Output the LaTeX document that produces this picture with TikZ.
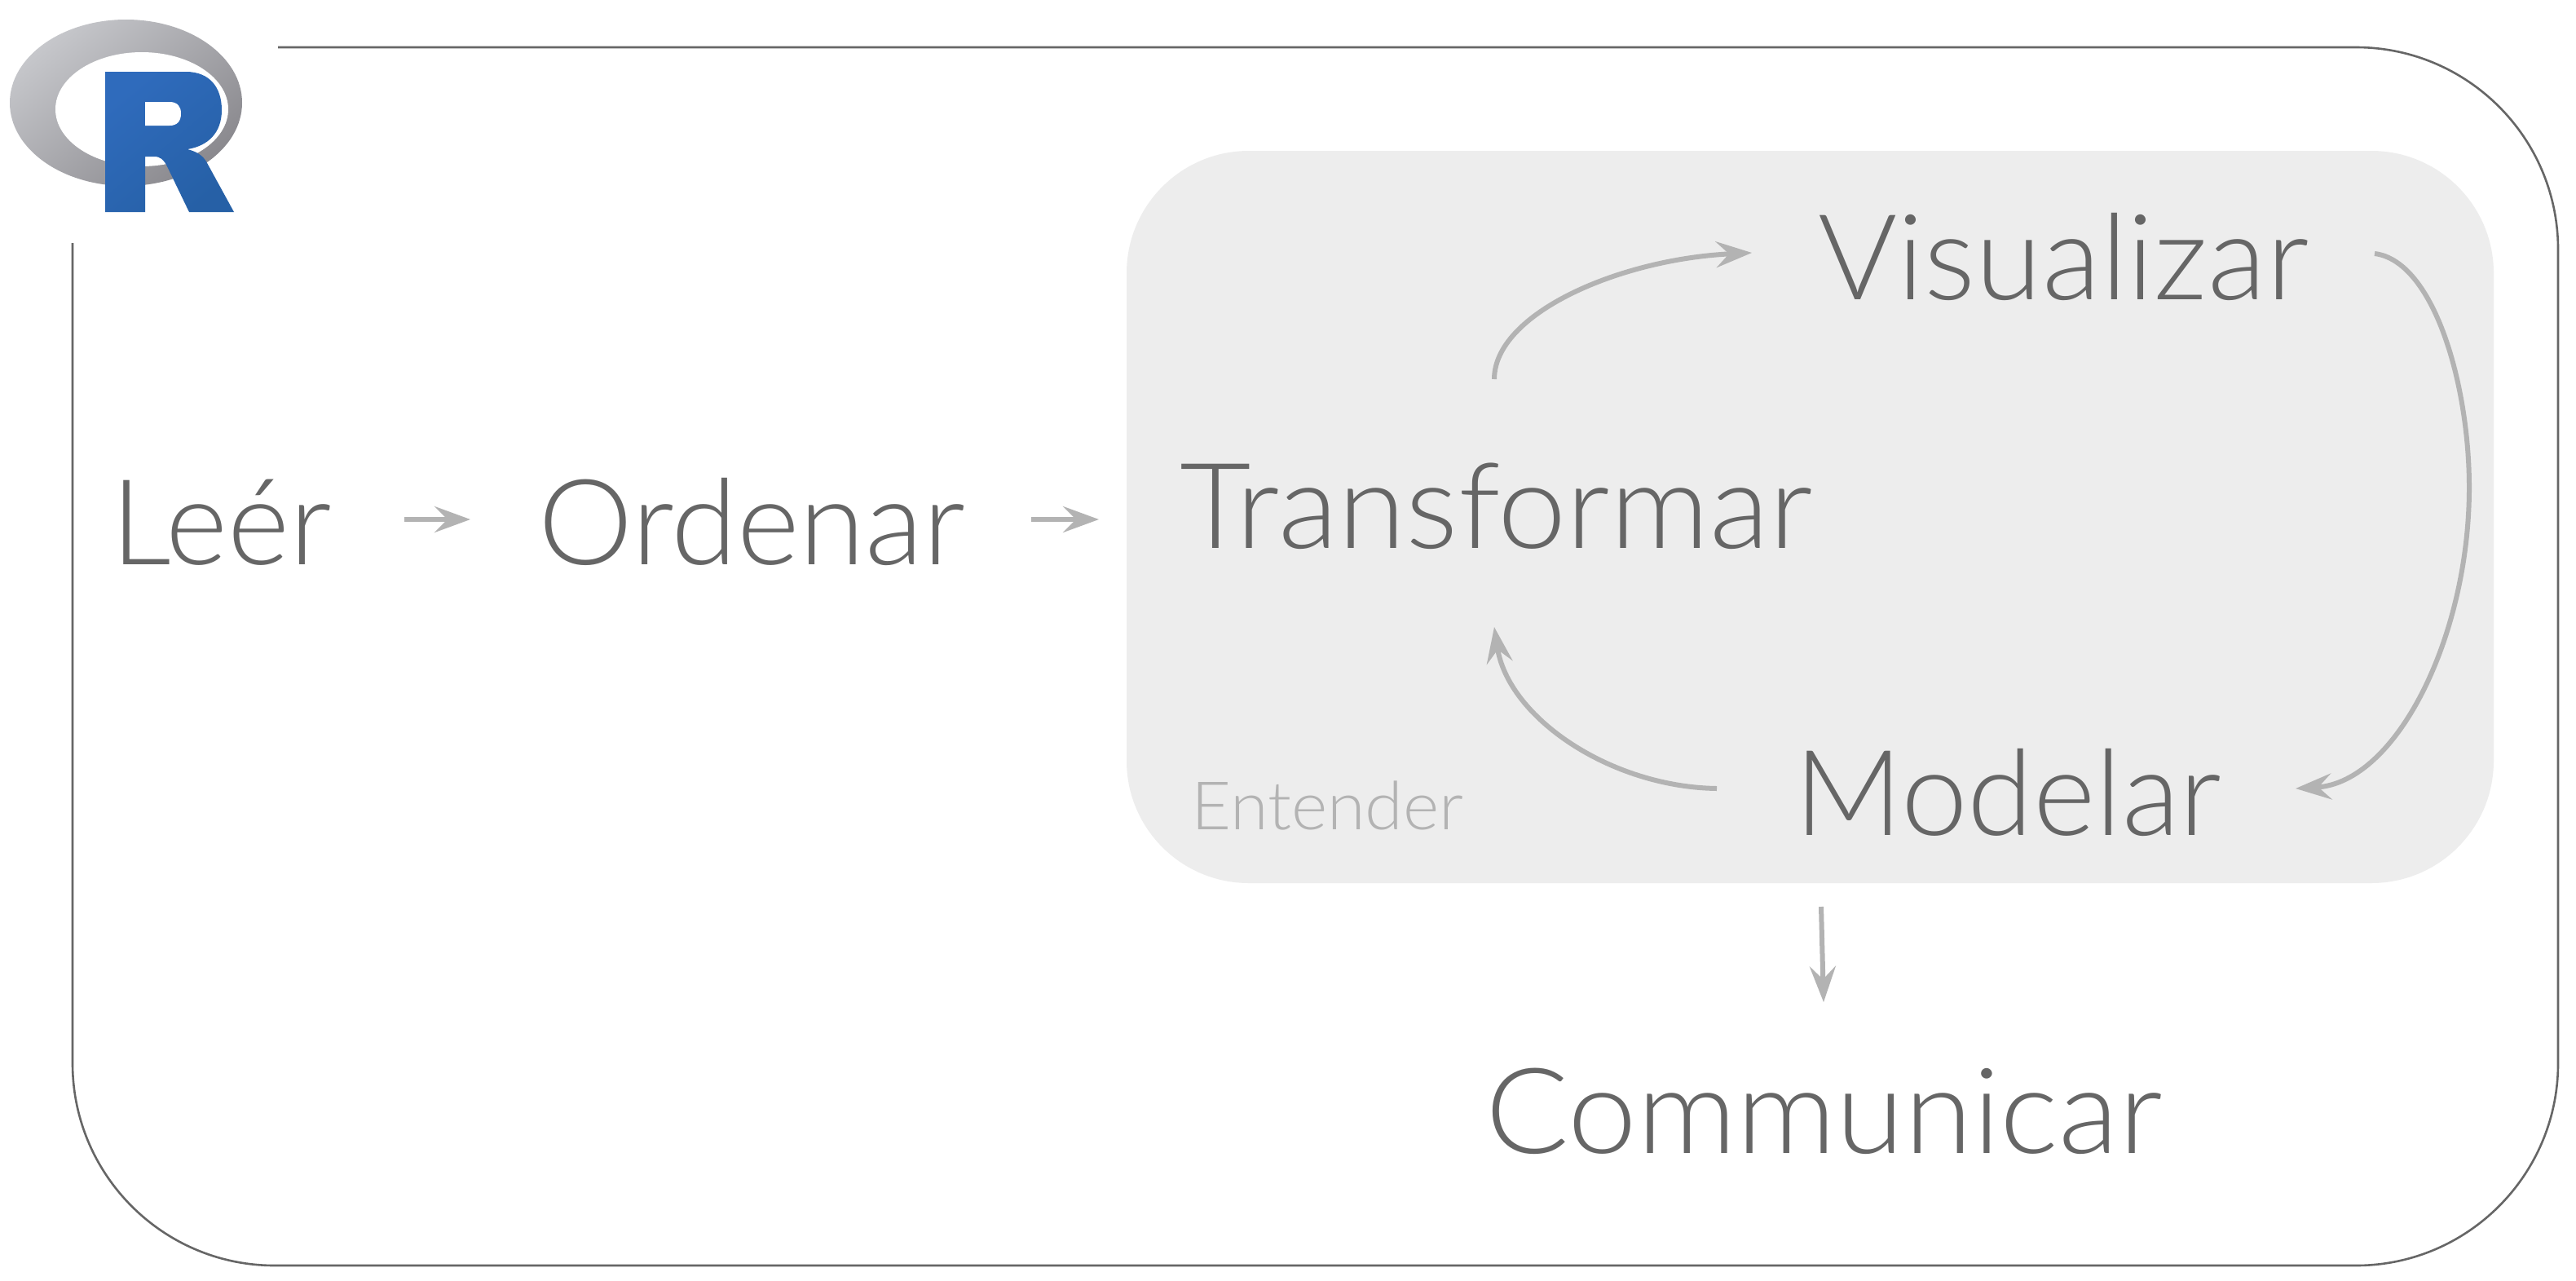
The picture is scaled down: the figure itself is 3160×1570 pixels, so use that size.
\documentclass[tikz,border=0pt]{standalone}
\usepackage{fontspec}
\usepackage{graphicx}
\usetikzlibrary{arrows.meta,shadings}
\newfontfamily\lightfont{Lato Light}
\definecolor{txt}{HTML}{666666}
\definecolor{arr}{HTML}{B3B3B3}
\definecolor{panel}{HTML}{EDEDED}
\definecolor{ringa}{HTML}{C6C7CB}
\definecolor{ringb}{HTML}{8A898E}
\definecolor{rtop}{HTML}{2F6BBC}
\definecolor{rbot}{HTML}{2660A6}
\newcommand{\fitw}[2]{\resizebox{#1}{\height}{#2}}
\tikzset{
  bigword/.style={anchor=base west,inner sep=0pt,text=txt,font=\lightfont\fontsize{73}{73}\selectfont},
  smallword/.style={anchor=base west,inner sep=0pt,text=arr,font=\lightfont\fontsize{41}{41}\selectfont},
  flow/.style={draw=arr,line width=3pt,-{Stealth[length=22pt,width=16pt,inset=8pt,fill=arr]}},
  frame/.style={draw=txt,line width=1.3pt}
}
\begin{document}
\begin{tikzpicture}[x=0.5pt,y=-0.5pt]
\useasboundingbox[fill=white] (0,0) rectangle (3160,1570);
% frame
\draw[frame] (341,58) -- (2890,58) arc[start angle=90,end angle=0,radius=124pt]
  -- (3138,1304) arc[start angle=0,end angle=-90,radius=124pt]
  -- (337,1552) arc[start angle=270,end angle=180,radius=124pt] -- (89,298);
% panel
\fill[panel,rounded corners=75pt] (1382,185) rectangle (3059,1083);
% logo
\shade[top color=ringa,bottom color=ringb,shading angle=40]
  (154.5,126) ellipse[x radius=142.5,y radius=102];
\fill[white] (174,134) ellipse[x radius=106,y radius=70];
\shade[top color=rtop,bottom color=rbot,shading angle=40]
  (129,88) -- (228,88) .. controls (258,88) and (272,108) .. (272,135)
  .. controls (272,163) and (255,179) .. (230,183)
  .. controls (241,186) and (248,190) .. (253,198) -- (287,260) -- (232,260) -- (205,204)
  .. controls (201,196) and (197,192) .. (189,192) -- (178,192) -- (178,260) -- (129,260) -- cycle;
\fill[white] (178,125) -- (208,125) .. controls (218,125) and (222,131) .. (222,139)
  .. controls (222,148) and (218,154) .. (208,154) -- (178,154) -- cycle;
% words
\node[bigword] (leer) at (136,692) {\fitw{135pt}{Leér}};
\node[bigword] (ordenar) at (660,692) {\fitw{262pt}{Ordenar}};
\node[bigword] (transformar) at (1447,672) {\fitw{388pt}{Transformar}};
\node[bigword] (visualizar) at (2230,367) {\fitw{301pt}{Visualizar}};
\node[bigword] (modelar) at (2201,1024) {\fitw{262pt}{Modelar}};
\node[bigword] (communicar) at (1822,1414) {\fitw{415pt}{Communicar}};
\node[smallword] (entender) at (1461,1017) {\fitw{167pt}{Entender}};
% connector ends
\coordinate (a1) at (496,637);
\coordinate (a2) at (577,637);
\coordinate (b1) at (1265,637);
\coordinate (b2) at (1348,637);
\coordinate (c1) at (1833,465);
\coordinate (c2) at (2149,310);
\coordinate (d1) at (2913,311);
\coordinate (d2) at (3029,598);
\coordinate (d3) at (2816,967);
\coordinate (e1) at (2106,967);
\coordinate (e2) at (1833,769);
\coordinate (f1) at (2234,1112);
\coordinate (f2) at (2237,1229);
\draw[flow] (a1) -- (a2);
\draw[flow] (b1) -- (b2);
\draw[flow] (c1) .. controls (1833,385) and (1985,318) .. (c2);
\draw[flow] (d1) .. controls (2985,320) and (3029,470) .. (d2) .. controls (3029,780) and (2940,960) .. (d3);
\draw[flow] (e1) .. controls (1975,965) and (1850,880) .. (e2);
\draw[flow] (f1) -- (f2);
\end{tikzpicture}
\end{document}
